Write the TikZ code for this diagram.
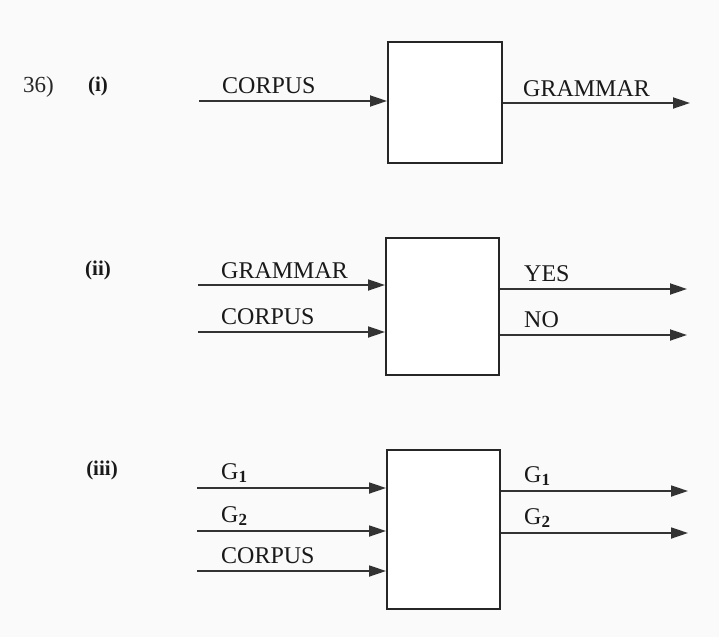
\documentclass[tikz,border=0pt]{standalone}
\usepackage{fontspec}
\setmainfont{Liberation Serif}
\usetikzlibrary{arrows.meta}
\tikzset{
  blk/.style={draw=black!85, line width=2pt, fill=white, minimum width=#1, inner sep=0pt},
  arr/.style={draw=black!80, line width=1.8pt, -{Triangle[length=17pt,width=11pt]}},
  lbl/.style={anchor=base west, inner sep=0pt, font=\fontsize{24}{26}\selectfont, text=black!90},
  part/.style={anchor=center, inner sep=0pt, font=\fontsize{21}{23}\selectfont\bfseries, text=black!90}
}
\newcommand{\Gsub}[1]{G\raisebox{-0.3ex}{\fontsize{17}{17}\selectfont\bfseries #1}}
\begin{document}
\begin{tikzpicture}[x=1pt,y=-1pt]
\useasboundingbox[fill={rgb,255:red,250;green,250;blue,250}] (0,0) rectangle (719,637);
% boxes
\node[blk=114pt, minimum height=121pt] (b1) at (445,102.5) {};
\node[blk=113pt, minimum height=137pt] (b2) at (442.5,306.5) {};
\node[blk=113pt, minimum height=159pt] (b3) at (443.5,529.5) {};
% labels
\node[anchor=base west, inner sep=0pt, font=\fontsize{23}{26}\selectfont, text=black!85] (n36) at (23,92) {36)};
\node[part] (p1) at (98,86) {(i)};
\node[part] (p2) at (98,270) {(ii)};
\node[part] (p3) at (102,470) {(iii)};
% (i)
\coordinate (i1s) at (199,101);
\coordinate (o1e) at (690,103);
\draw[arr] (i1s) -- (i1s -| b1.west);
\draw[arr] (o1e -| b1.east) -- (o1e);
\node[lbl] (t1a) at (222,93) {CORPUS};
\node[lbl] (t1b) at (523,96) {GRAMMAR};
% (ii)
\coordinate (i2a) at (198,285);
\coordinate (i2b) at (198,332);
\coordinate (o2a) at (687,289);
\coordinate (o2b) at (687,335);
\draw[arr] (i2a) -- (i2a -| b2.west);
\draw[arr] (i2b) -- (i2b -| b2.west);
\draw[arr] (o2a -| b2.east) -- (o2a);
\draw[arr] (o2b -| b2.east) -- (o2b);
\node[lbl] (t2a) at (221,278) {GRAMMAR};
\node[lbl] (t2b) at (221,324.5) {CORPUS};
\node[lbl] (t2c) at (524,281.5) {YES};
\node[lbl] (t2d) at (524,327.5) {NO};
% (iii)
\coordinate (i3a) at (197,488);
\coordinate (i3b) at (197,531);
\coordinate (i3c) at (197,571);
\coordinate (o3a) at (688,491);
\coordinate (o3b) at (688,533);
\draw[arr] (i3a) -- (i3a -| b3.west);
\draw[arr] (i3b) -- (i3b -| b3.west);
\draw[arr] (i3c) -- (i3c -| b3.west);
\draw[arr] (o3a -| b3.east) -- (o3a);
\draw[arr] (o3b -| b3.east) -- (o3b);
\node[lbl] (t3a) at (221,479) {\Gsub{1}};
\node[lbl] (t3b) at (221,522) {\Gsub{2}};
\node[lbl] (t3c) at (221,563) {CORPUS};
\node[lbl] (t3d) at (524,482) {\Gsub{1}};
\node[lbl] (t3e) at (524,524) {\Gsub{2}};
\end{tikzpicture}
\end{document}
